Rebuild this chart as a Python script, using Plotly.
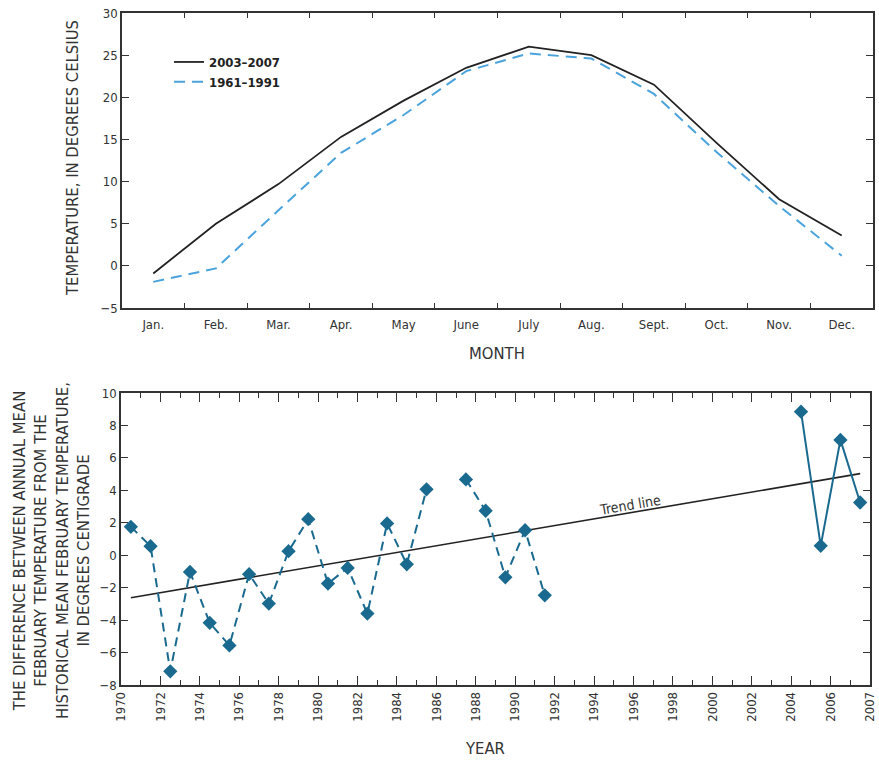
import plotly.graph_objects as go

# ---- Top panel data ----
months = ["Jan.", "Feb.", "Mar.", "Apr.", "May", "June", "July", "Aug.", "Sept.", "Oct.", "Nov.", "Dec."]
temp_2003_2007 = [-0.9, 5.0, 9.7, 15.3, 19.6, 23.5, 26.0, 25.0, 21.5, 14.6, 7.9, 3.6]
temp_1961_1991 = [-1.9, -0.3, 6.6, 13.4, 17.9, 23.1, 25.2, 24.6, 20.4, 13.5, 7.1, 1.2]

# ---- Bottom panel data ----
years_a = [1970.5, 1971.5, 1972.5, 1973.5, 1974.5, 1975.5, 1976.5, 1977.5, 1978.5, 1979.5,
           1980.5, 1981.5, 1982.5, 1983.5, 1984.5, 1985.5, 1986.5, 1987.5, 1988.5, 1989.5,
           1990.5, 1991.5]
diff_a = [1.75, 0.56, -7.16, -1.03, -4.17, -5.56, -1.17, -2.98, 0.25, 2.22,
          -1.75, -0.78, -3.6, 1.96, -0.56, 4.06, None, 4.67, 2.74, -1.36,
          1.54, -2.47]
years_b = [2004.5, 2005.5, 2006.5, 2007.5]
diff_b = [8.85, 0.58, 7.11, 3.25]
trend_x = [1970.5, 2007.5]
trend_y = [-2.62, 5.03]

year_tickvals = [1970, 1972, 1974, 1976, 1978, 1980, 1982, 1984, 1986, 1988, 1990,
                 1992, 1994, 1996, 1998, 2000, 2002, 2004, 2006, 2008]
year_ticktext = ["1970", "1972", "1974", "1976", "1978", "1980", "1982", "1984", "1986", "1988", "1990",
                 "1992", "1994", "1996", "1998", "2000", "2002", "2004", "2006", "2007"]

FONT = "Liberation Sans Narrow, Arial Narrow, DejaVu Sans Condensed, sans-serif"
AX = "#333333"
TEAL = "#1a6a8f"

W, H = 879, 761
def fx(px): return px / W
def fy(py): return 1 - py / H

fig = go.Figure()

fig.add_trace(go.Scatter(x=months, y=temp_2003_2007, mode="lines", name="2003–2007",
                         line=dict(color="#222222", width=1.8), xaxis="x", yaxis="y"))
fig.add_trace(go.Scatter(x=months, y=temp_1961_1991, mode="lines", name="1961–1991",
                         line=dict(color="#4aa3dc", width=2, dash="11px,7px"), xaxis="x", yaxis="y"))

fig.add_trace(go.Scatter(x=trend_x, y=trend_y, mode="lines", showlegend=False,
                         line=dict(color="#222222", width=1.6), xaxis="x2", yaxis="y2"))
fig.add_trace(go.Scatter(x=years_a, y=diff_a, mode="lines+markers", showlegend=False,
                         connectgaps=False,
                         line=dict(color=TEAL, width=2, dash="9px,6px"),
                         marker=dict(symbol="diamond", size=11, color=TEAL),
                         xaxis="x2", yaxis="y2"))
fig.add_trace(go.Scatter(x=years_b, y=diff_b, mode="lines+markers", showlegend=False,
                         line=dict(color=TEAL, width=2),
                         marker=dict(symbol="diamond", size=11, color=TEAL),
                         xaxis="x2", yaxis="y2"))

axis_common = dict(showline=True, linecolor=AX, linewidth=1.5, mirror="ticks",
                   ticks="inside", tickcolor=AX, tickwidth=1.2, showgrid=False,
                   zeroline=False, automargin=False, ticklabeloverflow="allow",
                   tickfont=dict(family=FONT, size=13, color="#333333"))

TITLE_FONT = dict(family=FONT, size=16.5, color="#333333")

fig.update_layout(
    width=W, height=H,
    margin=dict(l=0, r=0, t=0, b=0, autoexpand=False),
    paper_bgcolor="white", plot_bgcolor="white",
    font=dict(family=FONT, size=13, color="#333333"),
    xaxis=dict(domain=[fx(122), fx(873)], anchor="y", type="category",
               range=[-0.5, 11.5], tickson="boundaries", ticklen=5, ticklabelstandoff=4,
               **axis_common),
    yaxis=dict(domain=[fy(308), fy(13)], anchor="x", range=[-5, 30], dtick=5,
               ticklen=7, **axis_common),
    xaxis2=dict(domain=[fx(121), fx(870)], anchor="y2", range=[1970, 2008],
                tickvals=year_tickvals, ticktext=year_ticktext, tickangle=-90,
                ticklen=9, minor=dict(dtick=1, tick0=1970, ticks="inside", ticklen=5,
                                      tickcolor=AX, tickwidth=1.2),
                **axis_common),
    yaxis2=dict(domain=[fy(685), fy(393)], anchor="x2", range=[-8, 10], dtick=2,
                ticklen=7, **axis_common),
    legend=dict(x=fx(169), y=fy(47), xanchor="left", yanchor="top",
                bgcolor="rgba(0,0,0,0)", tracegroupgap=0,
                font=dict(family=FONT, size=13, color="#222222", weight="bold")),
    annotations=[
        dict(text="TEMPERATURE, IN DEGREES CELSIUS", x=fx(72), y=fy(158), xref="paper", yref="paper",
             xanchor="center", yanchor="middle",
             textangle=-90, showarrow=False, font=TITLE_FONT),
        dict(text="MONTH", x=fx(497), y=fy(354), xref="paper", yref="paper",
             xanchor="center", yanchor="middle", showarrow=False, font=TITLE_FONT),
        dict(text="THE DIFFERENCE BETWEEN ANNUAL MEAN<br>FEBRUARY TEMPERATURE FROM THE<br>"
                  "HISTORICAL MEAN FEBRUARY TEMPERATURE,<br>IN DEGREES CENTIGRADE",
             x=fx(51), y=fy(551), xref="paper", yref="paper", textangle=-90, showarrow=False,
             xanchor="center", yanchor="middle",
             align="center", font=dict(family=FONT, size=16.5, color="#333333")),
        dict(text="YEAR", x=fx(485), y=fy(748), xref="paper", yref="paper",
             xanchor="center", yanchor="middle", showarrow=False, font=TITLE_FONT),
        dict(text="Trend line", x=1995.8, y=3.1, xref="x2", yref="y2", textangle=-9.6,
             showarrow=False, xanchor="center", yanchor="middle",
             font=dict(family=FONT, size=14, color="#333333")),
    ],
)

# remove the browser's default 8px body margin so the figure fills the window exactly
fig.write_html("out.html", config={"displayModeBar": False},
               post_script="document.body.style.margin='0px';")
